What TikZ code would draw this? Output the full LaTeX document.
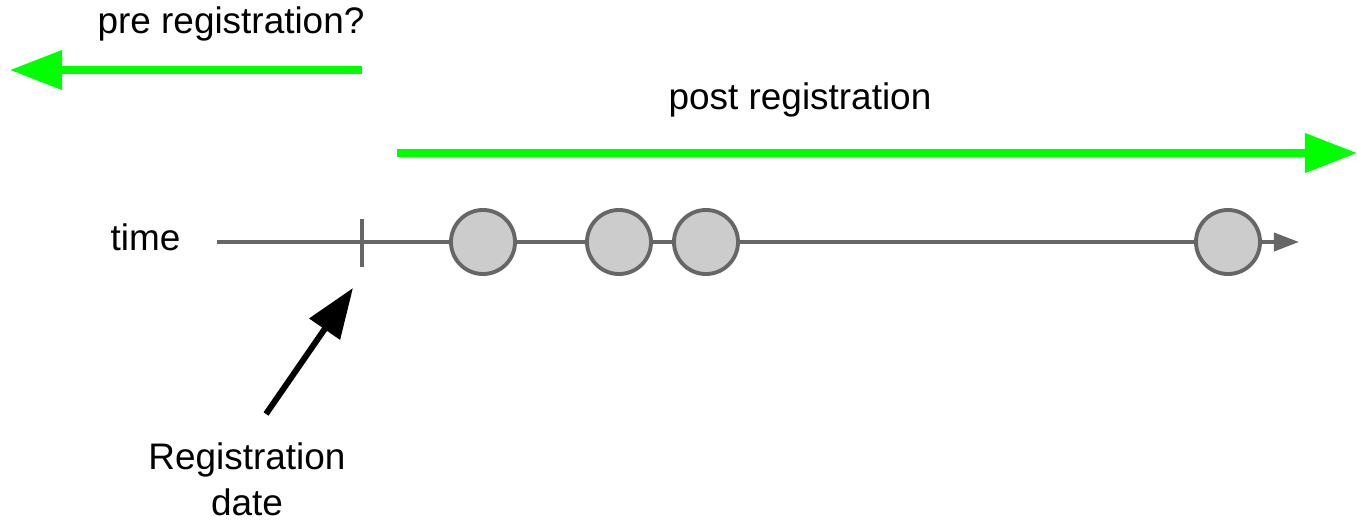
\documentclass[tikz,border=0pt]{standalone}
\usepackage{fontspec}
\setmainfont{Liberation Sans}
\usepackage{tikz}
\usetikzlibrary{arrows.meta,positioning}
\definecolor{brightgreen}{HTML}{00FF00}
\definecolor{linegray}{HTML}{666666}
\definecolor{dotgray}{HTML}{CCCCCC}

\begin{document}
\begin{tikzpicture}[x=0.01cm, y=-0.01cm,
  label/.style={font=\fontsize{10.5}{12.8}\selectfont, inner sep=0pt},
  green arrow/.style={draw=brightgreen, line width=2pt, -{Triangle[length=5.2mm,width=3.8mm]}},
  timeline/.style={draw=linegray, line width=1.1pt, -{Triangle[length=2.5mm,width=1.8mm]}},
  event/.style={circle, draw=linegray, line width=1.1pt, fill=dotgray, minimum size=0.64cm, inner sep=0pt}]
\useasboundingbox (0,0) rectangle (1357,521);

\node[label, anchor=base] (pre) at (231,33) {pre registration?};
\node[label, anchor=base] (post) at (800,110) {post registration};
\node[label, anchor=base west] (time) at (110,250) {time};
\node[label, anchor=base, align=center] (regdate) at (247,515) {Registration\\date};

\coordinate (preStart) at (362,70);
\coordinate (preEnd) at (10,70);
\coordinate (postStart) at (397,153);
\coordinate (postEnd) at (1357,153);
\draw[green arrow] (preStart) -- (preEnd);
\draw[green arrow] (postStart) -- (postEnd);

\coordinate (t0) at (217,242);
\coordinate (t1) at (1299,242);
\draw[timeline] (t0) -- (t1);
\coordinate (tickTop) at (362,219);
\coordinate (tickBot) at (362,267);
\draw[draw=linegray, line width=1.1pt] (tickTop) -- (tickBot);

\node[event] (e1) at (483,242) {};
\node[event] (e2) at (619,242) {};
\node[event] (e3) at (706,242) {};
\node[event] (e4) at (1228,242) {};

\coordinate (regTail) at (266,414);
\coordinate (regTip) at (353,288);
\draw[line width=1.7pt, -{Triangle[length=5mm,width=3.6mm]}] (regTail) -- (regTip);
\end{tikzpicture}
\end{document}
